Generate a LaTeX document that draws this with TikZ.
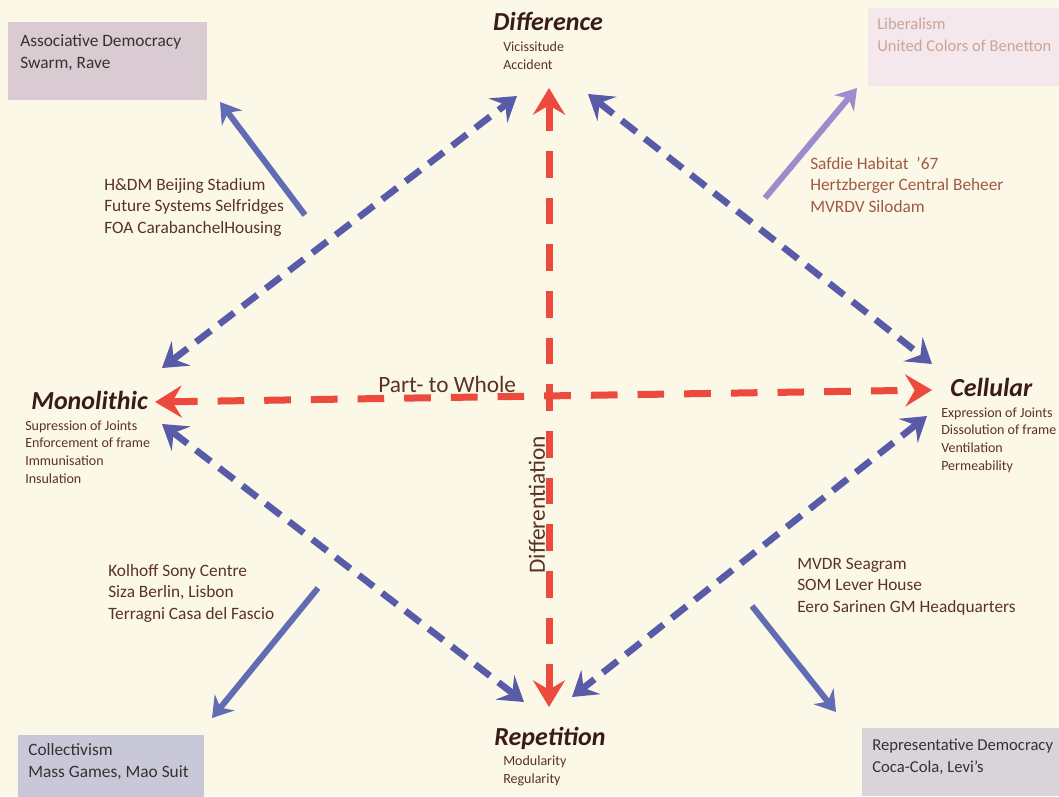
\documentclass[tikz,border=0pt]{standalone}
\usepackage{fontspec}
\setmainfont{Carlito}
\usetikzlibrary{arrows.meta}

\definecolor{paper}{RGB}{252,248,232}
\definecolor{dashblue}{RGB}{88,92,168}
\definecolor{solidblue}{RGB}{98,108,180}
\definecolor{lilac}{RGB}{156,140,204}
\definecolor{dashred}{RGB}{236,74,60}
\definecolor{titlebrown}{RGB}{58,28,22}
\definecolor{notebrown}{RGB}{90,50,38}
\definecolor{rustbrown}{RGB}{160,90,66}
\definecolor{boxpink}{RGB}{218,202,210}
\definecolor{boxblush}{RGB}{244,232,236}
\definecolor{boxlavender}{RGB}{200,200,216}
\definecolor{boxgrey}{RGB}{216,212,218}

\begin{document}
\begin{tikzpicture}[x=0.75pt,y=-0.75pt,
    pole/.style={font=\fontsize{19.5}{22}\selectfont\bfseries\itshape, text=titlebrown, inner sep=0pt},
    trait/.style={font=\fontsize{10.5}{13.2}\selectfont, text=notebrown, align=left, inner sep=0pt, anchor=base west},
    example/.style={font=\fontsize{13}{15.8}\selectfont, text=notebrown, align=left, inner sep=0pt, anchor=base west},
    boxnote/.style={font=\fontsize{13}{16.5}\selectfont, text=black!80, align=left, inner sep=0pt, anchor=base west},
    panel/.style={anchor=north west, inner sep=0pt},
    redaxis/.style={draw=dashred, line width=5.25pt, dash pattern=on 20pt off 15pt,
        {Stealth[length=20pt,width=24pt,inset=7pt]}-{Stealth[length=20pt,width=24pt,inset=7pt]}},
    blueaxis/.style={draw=dashblue, line width=5pt, dash pattern=on 14pt off 8pt,
        {Stealth[length=18pt,width=23pt,inset=7pt]}-{Stealth[length=18pt,width=23pt,inset=7pt]}},
    push/.style={draw=solidblue, line width=4.5pt, -{Stealth[length=15pt,width=19pt,inset=5pt]}}]

    \useasboundingbox (0,0) rectangle (1059,796);
    \fill[paper] (0,0) rectangle (1059,796);

    % Boxes
    \node[panel, fill=boxpink, minimum width=149pt, minimum height=58.5pt] (assocbox) at (8,22) {};
    \node[panel, fill=boxblush, minimum width=143pt, minimum height=58pt] (libbox) at (868,8) {};
    \node[panel, fill=boxlavender, minimum width=139pt, minimum height=46pt] (collbox) at (18,735) {};
    \node[panel, fill=boxgrey, minimum width=148pt, minimum height=51pt] (reprbox) at (862,728) {};

    % (base = last line)
    \node[boxnote] (assoc) at (20,68) {Associative Democracy\\Swarm, Rave};
    \node[boxnote, font=\fontsize{12.4}{16.5}\selectfont, text=rustbrown!55] (lib) at (877,51) {Liberalism\\United Colors of Benetton};
    \node[boxnote] (coll) at (28,777) {Collectivism\\Mass Games, Mao Suit};
    \node[boxnote, font=\fontsize{12.5}{16.5}\selectfont] (repr) at (872,772) {Representative Democracy\\Coca-Cola, Levi’s};

    % Poles
    \node[pole, anchor=base] (diff) at (548,30) {Difference};
    \node[trait] (difftrait) at (503,69) {Vicissitude\\Accident};
    \node[pole, anchor=base east] (mono) at (148,409) {Monolithic};
    \node[trait] (monotrait) at (25,483) {Supression of Joints\\Enforcement of frame\\Immunisation\\Insulation};
    \node[pole, anchor=base west] (cell) at (950,396) {Cellular};
    \node[trait] (celltrait) at (941,470) {Expression of Joints\\Dissolution of frame\\Ventilation\\Permeability};
    \node[pole, anchor=base] (rep) at (550,745) {Repetition};
    \node[trait] (reptrait) at (503,783) {Modularity\\Regularity};

    % Examples
    \node[example] (hdm) at (104,233) {H\&DM Beijing Stadium\\Future Systems Selfridges\\FOA CarabanchelHousing};
    \node[example, text=rustbrown] (safdie) at (810,212) {Safdie Habitat\ \ ’67\\Hertzberger Central Beheer\\MVRDV Silodam};
    \node[example] (kolhoff) at (108,619) {Kolhoff Sony Centre\\Siza Berlin, Lisbon\\Terragni Casa del Fascio};
    \node[example] (mvdr) at (797,612) {MVDR Seagram\\SOM Lever House\\Eero Sarinen GM Headquarters};

    % Arrow ends
    \coordinate (diffS) at (549,88);
    \coordinate (repN) at (549,707);
    \coordinate (monoE) at (155,402);
    \coordinate (cellW) at (932,390);
    \coordinate (diffSW) at (517,96);
    \coordinate (diffSE) at (588,94);
    \coordinate (monoNE) at (162,368);
    \coordinate (monoSE) at (162,424);
    \coordinate (cellNW) at (932,364);
    \coordinate (cellSW) at (927,416);
    \coordinate (repW) at (524,702);
    \coordinate (repE) at (572,697);

    % Axes
    \draw[redaxis] (repN) -- (diffS);
    \draw[redaxis] (monoE) -- (cellW);
    \draw[blueaxis] (monoNE) -- (diffSW);
    \draw[blueaxis] (diffSE) -- (cellNW);
    \draw[blueaxis] (monoSE) -- (repW);
    \draw[blueaxis] (cellSW) -- (repE);

    \node[font=\fontsize{17.5}{20}\selectfont, text=notebrown, anchor=base west, inner sep=0pt] (whole) at (378,392) {Part- to Whole};
    \node[font=\fontsize{17.5}{20}\selectfont, text=notebrown, rotate=90, inner sep=0pt] (differ) at (537,505) {Differentiation};

    % Pushes to the boxes
    \coordinate (hdmtail) at (305,215);
    \coordinate (assoctip) at (220,102);
    \coordinate (safdietail) at (765,198);
    \coordinate (libtip) at (857,88);
    \coordinate (kolhofftail) at (318,588);
    \coordinate (colltip) at (212,718);
    \coordinate (mvdrtail) at (752,606);
    \coordinate (reprtip) at (836,712);
    \draw[push] (hdmtail) -- (assoctip);
    \draw[push, draw=lilac] (safdietail) -- (libtip);
    \draw[push] (kolhofftail) -- (colltip);
    \draw[push] (mvdrtail) -- (reprtip);
\end{tikzpicture}
\end{document}
